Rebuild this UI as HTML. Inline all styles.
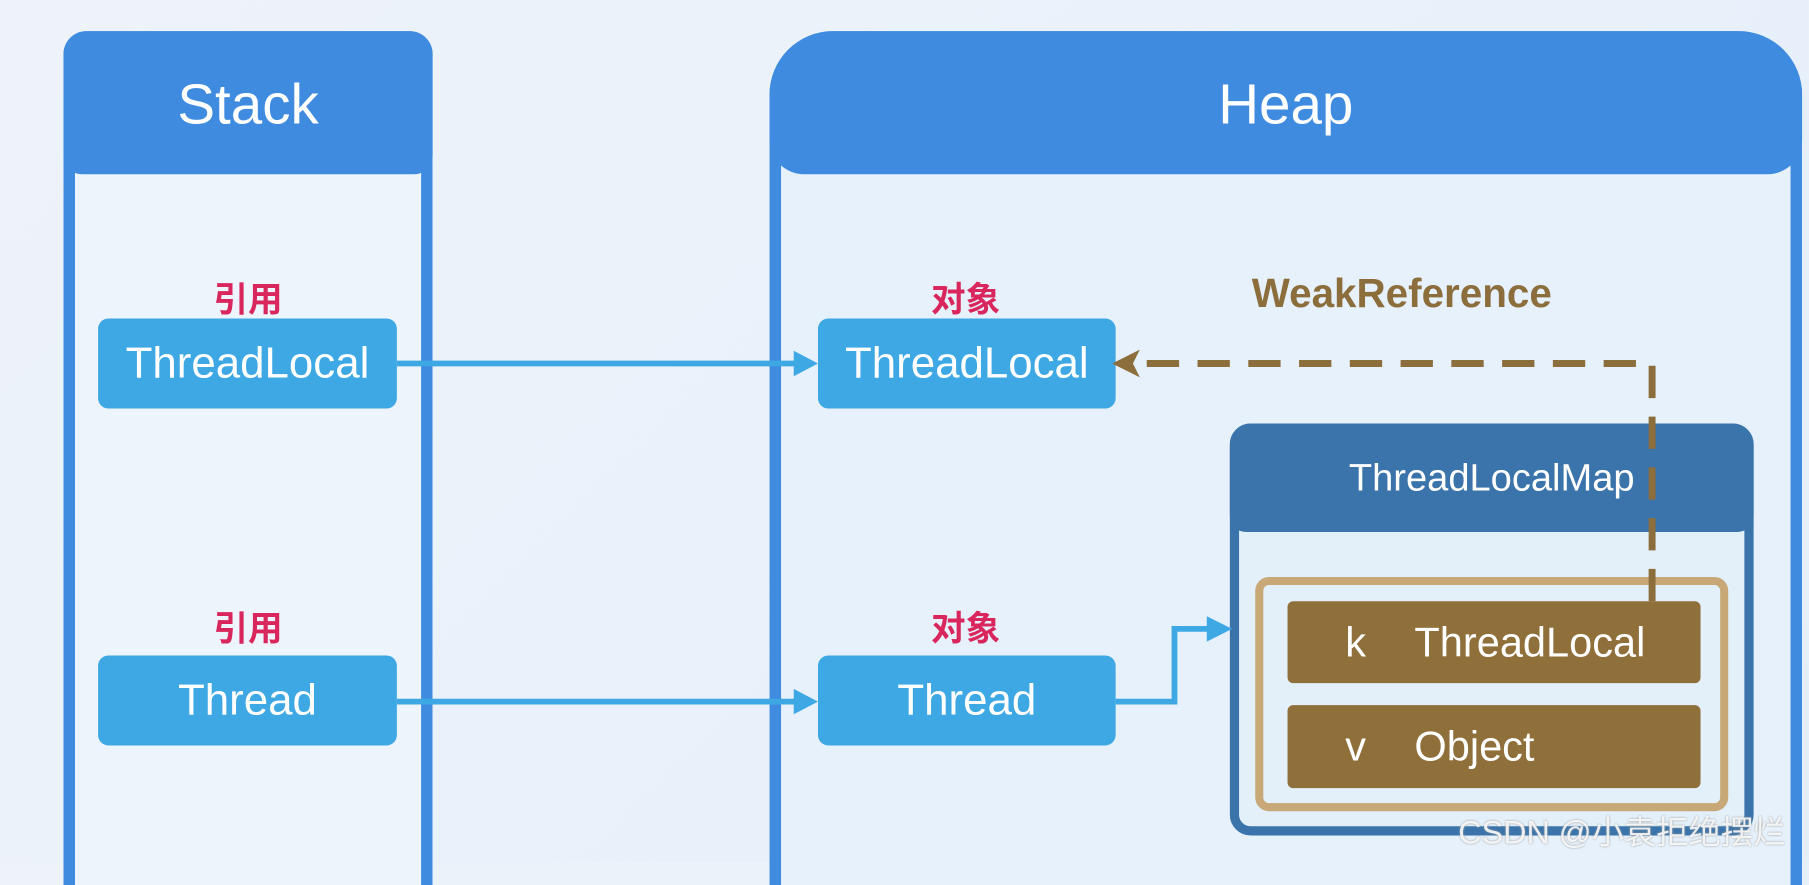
<!DOCTYPE html>
<html><head><meta charset="utf-8"><style>
html,body{margin:0;padding:0;}
body{width:1809px;height:862px;overflow:hidden;background:linear-gradient(135deg,#eef3fa,#e4effa);}
#c{position:absolute;left:0;top:0;width:1568px;height:747px;transform:scale(1.15370,1.15395);transform-origin:0 0;font-family:"Liberation Sans","Noto Sans CJK SC",sans-serif;}
.a{position:absolute;box-sizing:border-box;}
.panel{border:10px solid #3f8be0;border-bottom:none;background:#edf4fb;}
.hdr{background:#3f8be0;color:#fff;text-align:center;}
.nb{background:#3ea8e4;color:#fff;border-radius:9px;font-size:38px;display:flex;align-items:center;justify-content:center;}
.lbl{color:#d9275e;font-weight:bold;font-size:30px;text-align:center;width:120px;}
.row{background:#8f6f3a;color:#fff;border-radius:5px;font-size:36px;display:flex;align-items:center;}
</style></head><body><div id="c">
<div class="a panel" style="left:55px;top:27px;width:320px;height:740px;border-radius:20px 20px 0 0;"></div>
<div class="a hdr" style="left:55px;top:27px;width:320px;height:124px;border-radius:20px 20px 16px 16px;font-size:49px;line-height:128px;">Stack</div>
<div class="a panel" style="left:667px;top:27px;width:895px;height:740px;border-radius:55px 55px 0 0;background:#e6f1fb;"></div>
<div class="a hdr" style="left:667px;top:27px;width:895px;height:124px;border-radius:55px 55px 30px 30px;font-size:49px;line-height:128px;">Heap</div>

<div class="a lbl" style="left:155px;top:235px;">引用</div>
<div class="a lbl" style="left:155px;top:520px;">引用</div>
<div class="a lbl" style="left:777px;top:235px;">对象</div>
<div class="a lbl" style="left:777px;top:520px;">对象</div>
<div class="a" style="left:1085px;top:235px;color:#8c6d3c;font-weight:bold;font-size:35px;">WeakReference</div>

<div class="a nb" style="left:85px;top:276px;width:259px;height:78px;">ThreadLocal</div>
<div class="a nb" style="left:85px;top:568px;width:259px;height:78px;">Thread</div>
<div class="a nb" style="left:709px;top:276px;width:258px;height:78px;">ThreadLocal</div>
<div class="a nb" style="left:709px;top:568px;width:258px;height:78px;">Thread</div>

<div class="a" style="left:1066px;top:367px;width:454px;height:357px;border:8px solid #3a74aa;border-radius:18px;background:#e3f0fa;"></div>
<div class="a" style="left:1066px;top:367px;width:454px;height:94px;background:#3a74aa;border-radius:18px 18px 14px 14px;color:#fff;font-size:33px;text-align:center;line-height:94px;">ThreadLocalMap</div>
<div class="a" style="left:1088px;top:500px;width:410px;height:203px;border:7px solid #c8a876;border-radius:12px;"></div>
<div class="a row" style="left:1116px;top:521px;width:358px;height:71px;"><span style="margin-left:50px;width:60px;">k</span><span>ThreadLocal</span></div>
<div class="a row" style="left:1116px;top:611px;width:358px;height:72px;"><span style="margin-left:50px;width:60px;">v</span><span>Object</span></div>

<svg class="a" style="left:0;top:0;" width="1568" height="747">
<g stroke="#3ea8e4" stroke-width="5" fill="none">
<line x1="344" y1="315" x2="690" y2="315"/>
<line x1="344" y1="608" x2="690" y2="608"/>
<polyline points="967,608 1018,608 1018,545 1048,545"/>
</g>
<g fill="#3ea8e4">
<polygon points="688,304 709,315 688,326"/>
<polygon points="688,597 709,608 688,619"/>
<polygon points="1046,534 1068,545 1046,556"/>
</g>
<polyline points="1432,521 1432,315 990,315" stroke="#8c6d3c" stroke-width="6" fill="none" stroke-dasharray="28,16"/>
<polygon points="964,315 988,303 982,315 988,327" fill="#8c6d3c"/>
</svg>
<div class="a" style="left:1264px;top:700px;color:rgba(255,255,255,0.85);font-size:28px;text-shadow:0 0 2px #999;">CSDN @小袁拒绝摆烂</div>
</div></body></html>
